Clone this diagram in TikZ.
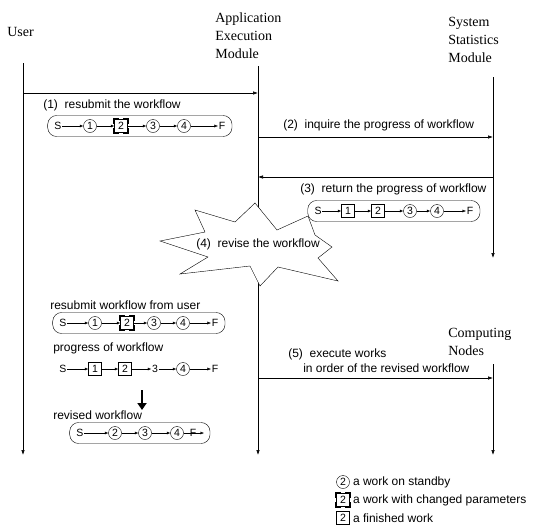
\documentclass[tikz,border=0pt]{standalone}
\usepackage{fontspec}
\setmainfont{Liberation Serif}
\setsansfont{Liberation Sans}
\usetikzlibrary{arrows.meta,positioning,fit}

\begin{document}
\begin{tikzpicture}[
    x = 1pt, y = -1pt, % pixel grid, y runs downwards
    > = {Latex[length=5pt,width=3.5pt]}, % arrow head style
    semithick % line style
    ]

    \tikzset{
    head/.style = {font=\fontsize{14}{18}\selectfont, align=left, anchor=north west, inner sep=0pt},
    msg/.style = {font=\sffamily\fontsize{12}{14}\selectfont, anchor=west, inner sep=0pt},
    work/.style = {circle, draw, thin, minimum size=13pt, inner sep=0pt, font=\sffamily\fontsize{10.5}{11}\selectfont},
    done/.style = {rectangle, draw, thin, minimum size=13pt, inner sep=0pt, font=\sffamily\fontsize{10.5}{11}\selectfont},
    changed/.style = {done},
    corner/.style = {line width=1.8pt, line cap=rect},
    term/.style = {inner sep=0.5pt, font=\sffamily\fontsize{10.5}{11}\selectfont},
    flow/.style = {-{Latex[length=3.5pt,width=3pt]}, thin},
    flowbox/.style = {draw, thin, rounded corners=9pt, inner xsep=6pt, inner ysep=6pt}
    }
    \useasboundingbox (0,0) rectangle (545,528);

    % heads of the lifelines
    \node[head] (user) at (7,27) {User};
    \node[head] (app) at (215,12) {Application\\Execution\\Module};
    \node[head] (sys) at (448,17) {System\\Statistics\\Module};
    \node[head] (comp) at (448,328) {Computing\\Nodes};

    % lifelines
    \coordinate (user top) at (23,63);  \coordinate (user end) at (23,455);
    \coordinate (app top) at (258,66);  \coordinate (app end) at (258,455);
    \coordinate (sys top) at (493,77);  \coordinate (sys end) at (493,258);
    \coordinate (comp top) at (493,364); \coordinate (comp end) at (493,455);
    \draw[->] (user top) -- (user end);
    \draw[->] (app top) -- (app end);
    \draw[->] (sys top) -- (sys end);
    \draw[->] (comp top) -- (comp end);

    % (1) resubmit
    \coordinate (m1a) at (23,93); \coordinate (m1b) at (258,93);
    \draw[->] (m1a) -- (m1b);
    \node[msg] (l1) at (43,105) {(1)\ \ resubmit the workflow};
    \node[term] (a0) at (58,126) {S};
    \node[work] (a1) at (90,126) {1};
    \node[changed] (a2) at (121,126) {2};
    \node[work] (a3) at (153,126) {3};
    \node[work] (a4) at (184,126) {4};
    \node[term] (a5) at (222,126) {F};
    \foreach \i/\j in {0/1,1/2,2/3,3/4,4/5}
        \draw[flow] (a\i) -- (a\j);
    \node[flowbox, fit=(a0)(a5)] (box a) {};

    % (2) inquire
    \coordinate (m2a) at (258,137); \coordinate (m2b) at (493,137);
    \draw[->] (m2a) -- (m2b);
    \node[msg] (l2) at (283,125) {(2)\ \ inquire the progress of workflow};

    % (3) return
    \coordinate (m3a) at (493,177); \coordinate (m3b) at (258,177);
    \draw[->] (m3a) -- (m3b);
    \node[msg] (l3) at (300,189) {(3)\ \ return the progress of workflow};
    \node[term] (b0) at (318,211) {S};
    \node[done] (b1) at (348,211) {1};
    \node[done] (b2) at (378,211) {2};
    \node[work] (b3) at (410,211) {3};
    \node[work] (b4) at (437,211) {4};
    \node[term] (b5) at (470,211) {F};
    \foreach \i/\j in {0/1,1/2,2/3,3/4,4/5}
        \draw[flow] (b\i) -- (b\j);
    \node[flowbox, fit=(b0)(b5)] (box b) {};

    % (4) revise
    \draw[fill=white, thin] (160,241) -- (205,232) -- (195,210) -- (235,222) -- (255,203)
        -- (277,230) -- (308,216) -- (315,235) -- (332,247) -- (318,258) -- (338,281)
        -- (278,267) -- (260,286) -- (250,266) -- (180,274) -- (208,257) -- cycle;
    \node[msg, anchor=center] (l4) at (258,244) {(4)\ \ revise the workflow};

    % resubmitted workflow
    \node[msg] (l6) at (50,305) {resubmit workflow from user};
    \node[term] (c0) at (63,323) {S};
    \node[work] (c1) at (95,323) {1};
    \node[changed] (c2) at (127,323) {2};
    \node[work] (c3) at (154,323) {3};
    \node[work] (c4) at (183,323) {4};
    \node[term] (c5) at (215,323) {F};
    \foreach \i/\j in {0/1,1/2,2/3,3/4,4/5}
        \draw[flow] (c\i) -- (c\j);
    \node[flowbox, fit=(c0)(c5)] (box c) {};

    % progress
    \node[msg] (l7) at (53,348) {progress of workflow};
    \node[term] (d0) at (63,369) {S};
    \node[done] (d1) at (95,369) {1};
    \node[done] (d2) at (125,369) {2};
    \node[term] (d3) at (155,369) {3};
    \node[work] (d4) at (183,369) {4};
    \node[term] (d5) at (215,369) {F};
    \foreach \i/\j in {0/1,1/2,2/3,3/4,4/5}
        \draw[flow] (d\i) -- (d\j);

    \coordinate (big top) at (142,390); \coordinate (big end) at (142,410);
    \draw[-{Triangle[length=7pt,width=9pt]}, line width=2.8pt] (big top) -- (big end);

    % revised workflow
    \node[msg] (l8) at (53,415) {revised workflow};
    \node[term] (e0) at (80,433) {S};
    \node[work] (e1) at (115,433) {2};
    \node[work] (e2) at (145,433) {3};
    \node[work] (e3) at (177,433) {4};
    \node[term] (e4) at (193,433) {F};
    \coordinate (e end) at (204,433);
    \foreach \i/\j in {0/1,1/2,2/3}
        \draw[flow] (e\i) -- (e\j);
    \draw[flow] (e3) -- (e end);
    \node[flowbox, fit=(e0)(e end)] (box e) {};

    % (5) execute
    \coordinate (m5a) at (258,378); \coordinate (m5b) at (493,378);
    \draw[->] (m5a) -- (m5b);
    \node[msg] (l5) at (288,354) {(5)\ \ execute works};
    \node[msg] (l5b) at (303,368) {in order of the revised workflow};

    % legend
    \node[work] (k1) at (343,482) {2};
    \node[msg, right=3pt of k1] (k1 text) {a work on standby};
    \node[changed] (k2) at (343,500) {2};
    \node[msg, right=3pt of k2] (k2 text) {a work with changed parameters};
    \node[done] (k3) at (343,518) {2};
    \node[msg, right=3pt of k3] (k3 text) {a finished work};

    % thick corners of the works with changed parameters
    \foreach \n in {a2,c2,k2} {
        \draw[corner] (\n.north west) ++(0,4) -- ++(0,-4) -- ++(4,0);
        \draw[corner] (\n.north east) ++(0,4) -- ++(0,-4) -- ++(-4,0);
        \draw[corner] (\n.south west) ++(0,-4) -- ++(0,4) -- ++(4,0);
        \draw[corner] (\n.south east) ++(0,-4) -- ++(0,4) -- ++(-4,0);
    }
\end{tikzpicture}
\end{document}
